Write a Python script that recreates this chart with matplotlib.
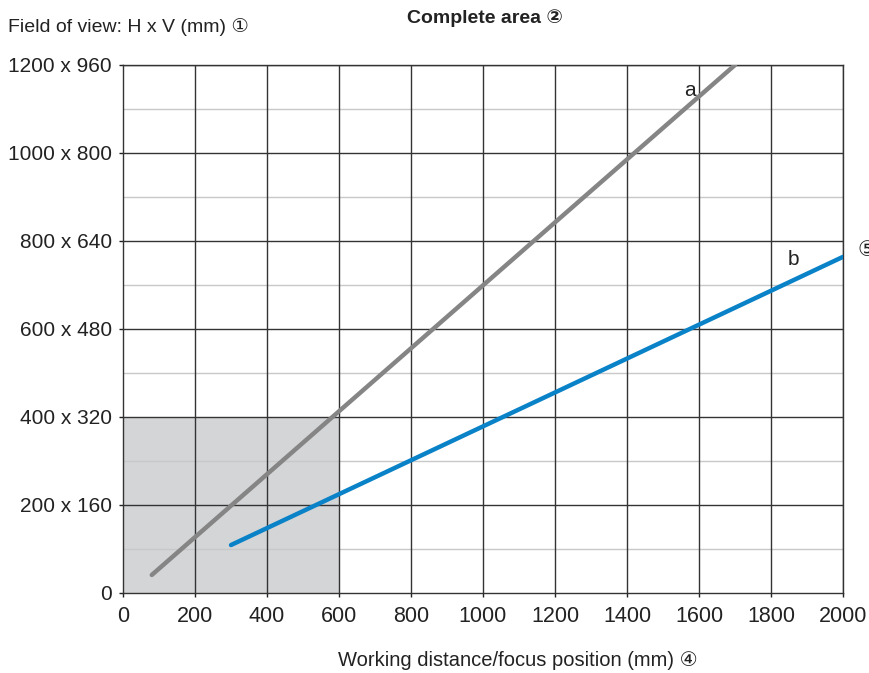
import matplotlib.pyplot as plt

plt.rcParams['font.family'] = ['Liberation Sans', 'DejaVu Sans', 'Noto Sans CJK SC']

# Working distance (mm) vs. horizontal field of view (mm)
dist_a = [80, 1700]
fov_a = [41, 1200]
dist_b = [300, 2000]
fov_b = [109, 764]

# shaded region
shade_dist = 600
shade_fov = 400

h_ticks = [0, 200, 400, 600, 800, 1000, 1200]
h_labels = ['0'] + [f'{h} x {int(h * 0.8)}' for h in h_ticks[1:]]
x_ticks = [0, 200, 400, 600, 800, 1000, 1200, 1400, 1600, 1800, 2000]

fig = plt.figure(figsize=(8.7, 6.73), dpi=100)
ax = fig.add_axes([123 / 870, 1 - 593 / 673, 720 / 870, 528 / 673])

ax.fill_between([0, shade_dist], 0, shade_fov, color='#d4d5d7', zorder=0, linewidth=0)

# minor horizontal grid
for h in range(100, 1200, 200):
    ax.axhline(h, color='#c8c8c8', lw=1, zorder=1)
for h in h_ticks[1:]:
    ax.axhline(h, color='#333333', lw=1, zorder=1)
for d in x_ticks[1:]:
    ax.axvline(d, color='#333333', lw=1, zorder=1)

ax.plot(dist_a, fov_a, color='#858585', lw=3.2, solid_capstyle='round', zorder=3)
ax.plot(dist_b, fov_b, color='#0a82c8', lw=3.2, solid_capstyle='round', zorder=3)

ax.text(1560, 1130, 'a', fontsize=15, color='#222222')
ax.text(1845, 745, 'b', fontsize=15, color='#222222')
ax.text(2040, 765, '⑤', fontsize=15, color='#222222', clip_on=False)

ax.set_xlim(0, 2000)
ax.set_ylim(0, 1200)
ax.set_xticks(x_ticks)
ax.set_yticks(h_ticks)
ax.set_yticklabels(h_labels)
ax.tick_params(labelsize=15.5, colors='#222222', length=3, width=1, pad=6)
ax.tick_params(axis='y', labelsize=15, pad=5)
for s in ax.spines.values():
    s.set_color('#333333')
    s.set_linewidth(1)

fig.text(8 / 870, 1 - 27 / 673, 'Field of view: H x V (mm) ①', fontsize=14,
         color='#222222', va='center', ha='left')
fig.text(485 / 870, 1 - 18 / 673, 'Complete area ②', fontsize=14, fontweight='bold',
         color='#222222', va='center', ha='center')
fig.text(518 / 870, 1 - 660 / 673, 'Working distance/focus position (mm) ④', fontsize=14.5,
         color='#222222', va='center', ha='center')

fig.savefig('out.png', dpi=100)
